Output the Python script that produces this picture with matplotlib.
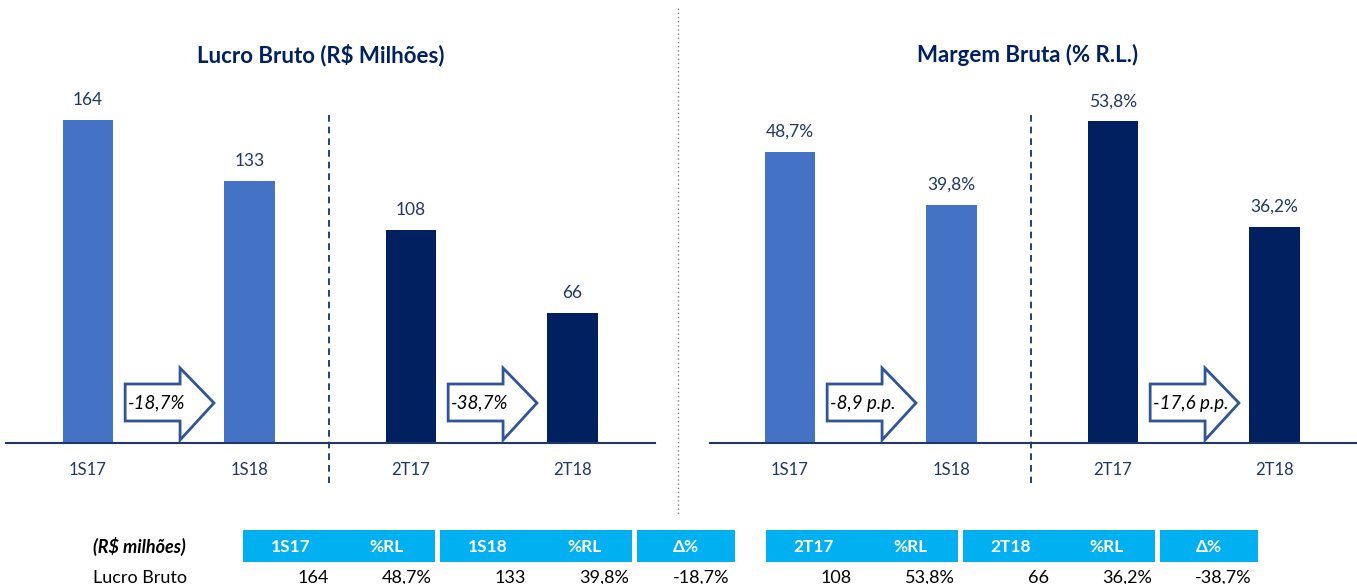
import matplotlib
matplotlib.use("Agg")
import matplotlib.pyplot as plt
from matplotlib.patches import Polygon, Rectangle
import matplotlib.transforms as mtransforms

plt.rcParams["font.family"] = ["Lato", "DejaVu Sans"]

# --- Data ---
periods = ["1S17", "1S18", "2T17", "2T18"]
lucro_bruto = [164, 133, 108, 66]
margem_bruta = [48.7, 39.8, 53.8, 36.2]
lucro_labels = ["164", "133", "108", "66"]
margem_labels = ["48,7%", "39,8%", "53,8%", "36,2%"]
lucro_deltas = ["-18,7%", "-38,7%"]
margem_deltas = ["-8,9 p.p.", "-17,6 p.p."]

table_headers_left = ["1S17", "%RL", "1S18", "%RL", "Δ%"]
table_headers_right = ["2T17", "%RL", "2T18", "%RL", "Δ%"]
table_row_label = "Lucro Bruto"
table_row_left = ["164", "48,7%", "133", "39,8%", "-18,7%"]
table_row_right = ["108", "53,8%", "66", "36,2%", "-38,7%"]

# --- Style ---
LIGHT = "#4472C4"
DARK = "#002060"
NAVY_TXT = "#1F3864"
ARROW_EDGE = "#2F5597"
CYAN = "#00B0F0"
bar_colors = [LIGHT, LIGHT, DARK, DARK]

W, H = 1357, 584
fig = plt.figure(figsize=(W / 100, H / 100), dpi=100)


def px_axes(left, top, right, bottom):
    return fig.add_axes([left / W, 1 - bottom / H, (right - left) / W, (bottom - top) / H])


def draw_chart(ax, values, labels, deltas, px_per_unit, center_px, left_px, right_px, divider_px):
    height_px = 443 - 60
    ax.set_ylim(0, height_px / px_per_unit)
    step = 161.5
    ax.set_xlim(-(center_px - left_px) / step, (right_px - center_px) / step)
    x = range(len(values))
    ax.bar(x, values, width=0.31, color=bar_colors, zorder=2)
    for xi, v, lab in zip(x, values, labels):
        ax.annotate(lab, (xi, v), xytext=(0, 14.4), textcoords="offset points",
                    ha="center", va="center", fontsize=12.5, color=NAVY_TXT)
    ax.set_xticks(list(x))
    ax.set_xticklabels(periods, fontsize=12, color=NAVY_TXT)
    ax.tick_params(axis="x", length=0, pad=14)
    ax.set_yticks([])
    for s in ["top", "left", "right"]:
        ax.spines[s].set_visible(False)
    ax.spines["bottom"].set_color(NAVY_TXT)
    ax.spines["bottom"].set_linewidth(1.5)

    # dashed divider between semester and quarter groups
    trans = mtransforms.blended_transform_factory(ax.transData, fig.transFigure)
    xd = (divider_px - center_px) / step
    ax.plot([xd, xd], [1 - 115 / H, 1 - 483 / H], transform=trans, color=DARK,
            lw=1.2, ls=(0, (4, 3)), clip_on=False)

    # block arrows with change labels
    ytr = mtransforms.blended_transform_factory(ax.transData, ax.transAxes)
    for k, txt in enumerate(deltas):
        b = 2 * k
        x0, xh, xt = b + 0.23, b + 0.57, b + 0.78
        f = lambda p: p / height_px
        pts = [(x0, f(22)), (x0, f(59)), (xh, f(59)), (xh, f(75)),
               (xt, f(40)), (xh, f(3)), (xh, f(22))]
        ax.add_patch(Polygon(pts, closed=True, facecolor="white", edgecolor=ARROW_EDGE,
                             lw=2, transform=ytr, zorder=3))
        ax.text(x0 + 0.02, f(40), txt, transform=ytr, ha="left", va="center",
                fontsize=13.5, style="italic", color="black", zorder=4)


ax1 = px_axes(6, 60, 655, 443)
draw_chart(ax1, lucro_bruto, lucro_labels, lucro_deltas, 1.97, 88, 6, 655, 329)
ax2 = px_axes(710, 60, 1357, 443)
draw_chart(ax2, margem_bruta, margem_labels, margem_deltas, 5.98, 790, 710, 1357, 1031)

fig.text(321 / W, 1 - 55 / H, "Lucro Bruto (R$ Milhões)", ha="center", va="center",
         fontsize=16, fontweight="bold", color=DARK)
fig.text(1028 / W, 1 - 55 / H, "Margem Bruta (% R.L.)", ha="center", va="center",
         fontsize=16, fontweight="bold", color=DARK)

# --- overlay for table and middle divider ---
ov = fig.add_axes([0, 0, 1, 1], zorder=-1)
ov.set_xlim(0, W)
ov.set_ylim(H, 0)
ov.axis("off")
ov.plot([678, 678], [8, 515], color="#7F7F7F", lw=1, ls=(0, (1, 2)))

ov.text(93, 547, "(R$ milhões)", ha="left", va="center", fontsize=13,
        fontweight="bold", style="italic", color="black")
ov.text(93, 578, table_row_label, ha="left", va="center", fontsize=13, color="black")


def draw_table(x_start, headers, row):
    groups = [(x_start, 192, 2), (x_start + 197, 192, 2), (x_start + 394, 98, 1)]
    i = 0
    for gx, gw, n in groups:
        ov.add_patch(Rectangle((gx, 530), gw, 32, facecolor=CYAN, edgecolor="none"))
        sub = gw / n
        for j in range(n):
            cx = gx + sub * j + sub / 2
            ov.text(cx, 547, headers[i], ha="center", va="center", fontsize=12.5,
                    fontweight="bold", color="white")
            pad = 10 if (n == 2 and j == 0) else (3 if n == 2 else 6)
            ov.text(gx + sub * (j + 1) - pad, 578, row[i], ha="right", va="center",
                    fontsize=13, color="black")
            i += 1


draw_table(243, table_headers_left, table_row_left)
draw_table(766, table_headers_right, table_row_right)

fig.savefig("out.png", dpi=100)
